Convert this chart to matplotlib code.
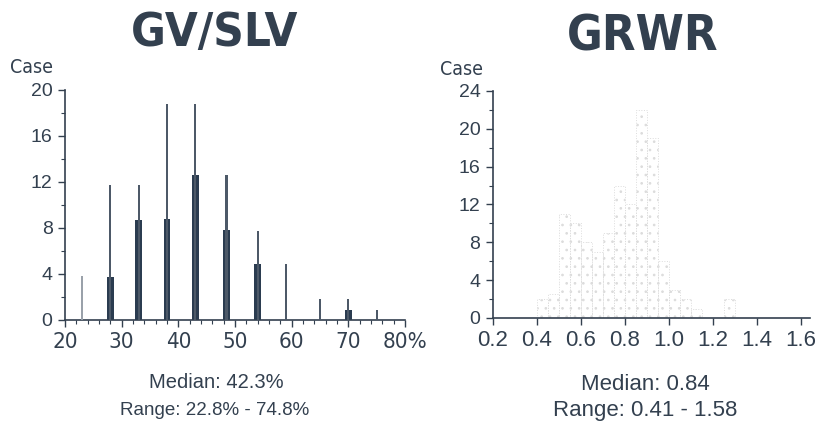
import matplotlib
matplotlib.use('Agg')
import matplotlib.pyplot as plt
from matplotlib.ticker import MultipleLocator

plt.rcParams['hatch.linewidth'] = 0.7

# GV/SLV histogram (percent), thin = all cases, thick = subgroup
gv_pos = [23, 28, 33, 38, 43, 48.5, 54, 59, 65, 70, 75]
gv_total = [3.8, 11.7, 11.7, 18.8, 18.8, 12.6, 7.7, 4.9, 1.8, 1.8, 0.9]
gv_sub = [0, 3.7, 8.7, 8.8, 12.6, 7.8, 4.9, 0, 0, 0.9, 0]

# GRWR histogram, 0.05 bins
grwr_left = [0.40, 0.45, 0.50, 0.55, 0.60, 0.65, 0.70, 0.75, 0.80, 0.85,
             0.90, 0.95, 1.00, 1.05, 1.10, 1.25]
grwr_count = [2, 2.5, 11, 10, 8, 7, 9, 14, 12, 22, 19, 6, 3, 2, 1, 2]

gv_ticks = [20, 30, 40, 50, 60, 70, 80]
gv_labels = ['20', '30', '40', '50', '60', '70', '80%']
grwr_ticks = [0.2, 0.4, 0.6, 0.8, 1.0, 1.2, 1.4, 1.6]

ink = '#33404f'
regular = ['Liberation Sans', 'DejaVu Sans']

fig = plt.figure(figsize=(8.23, 4.24), dpi=100)

ax1 = fig.add_axes([0.079, 0.2453, 0.4131, 0.5425])
ax1.bar(gv_pos, gv_sub, width=1.2, color='#2b3c50', zorder=2)
thin_colors = ['#9aa1aa'] + ['#4d5968'] * (len(gv_pos) - 1)
ax1.bar(gv_pos, gv_total, width=0.4, color=thin_colors, zorder=3)
ax1.set_xlim(20, 80)
ax1.set_ylim(0, 20)
ax1.set_xticks(gv_ticks)
ax1.set_xticklabels(gv_labels, fontsize=16, family='DejaVu Sans',
                    stretch='condensed', color=ink)
ax1.xaxis.set_minor_locator(MultipleLocator(2))
ax1.yaxis.set_major_locator(MultipleLocator(4))
ax1.yaxis.set_minor_locator(MultipleLocator(2))

ax2 = fig.add_axes([0.599, 0.25, 0.385, 0.5354])
ax2.bar(grwr_left, grwr_count, width=0.05, align='edge', facecolor='none',
        edgecolor='#dcdcdc', hatch='..', linewidth=0.7, linestyle=':', zorder=2)
ax2.set_xlim(0.2, 1.64)
ax2.set_ylim(0, 24)
ax2.set_xticks(grwr_ticks)
ax2.set_xticklabels([f'{t:.1f}' for t in grwr_ticks], fontsize=16,
                    family=regular, color=ink)
ax2.yaxis.set_major_locator(MultipleLocator(4))
ax2.yaxis.set_minor_locator(MultipleLocator(2))

for ax in (ax1, ax2):
    for s in ('top', 'right'):
        ax.spines[s].set_visible(False)
    for s in ('left', 'bottom'):
        ax.spines[s].set_color(ink)
        ax.spines[s].set_linewidth(1.2)
    ax.tick_params(axis='both', which='major', length=5, width=1, color=ink, pad=4)
    ax.tick_params(axis='both', which='minor', length=3, width=0.8, color=ink)
    ax.tick_params(axis='y', labelsize=14, labelcolor=ink)
    for lab in ax.get_yticklabels():
        lab.set_family(regular)

fig.text(0.261, 0.92, 'GV/SLV', ha='center', va='center', fontsize=34,
         family='DejaVu Sans', stretch='condensed', fontweight='bold', color=ink)
fig.text(0.781, 0.915, 'GRWR', ha='center', va='center', fontsize=35,
         family='DejaVu Sans', stretch='condensed', fontweight='bold', color=ink)
fig.text(0.012, 0.84, 'Case', ha='left', va='center', fontsize=14,
         family='DejaVu Sans', stretch='condensed', color=ink)
fig.text(0.535, 0.835, 'Case', ha='left', va='center', fontsize=14,
         family='DejaVu Sans', stretch='condensed', color=ink)

fig.text(0.263, 0.097, 'Median: 42.3%', ha='center', va='center', fontsize=14.5,
         family=regular, color=ink)
fig.text(0.261, 0.033, 'Range: 22.8% - 74.8%', ha='center', va='center', fontsize=13.5,
         family=regular, color=ink)
fig.text(0.784, 0.092, 'Median: 0.84', ha='center', va='center', fontsize=16,
         family=regular, color=ink)
fig.text(0.784, 0.031, 'Range: 0.41 - 1.58', ha='center', va='center', fontsize=16,
         family=regular, color=ink)

fig.savefig('out.png', dpi=100)
